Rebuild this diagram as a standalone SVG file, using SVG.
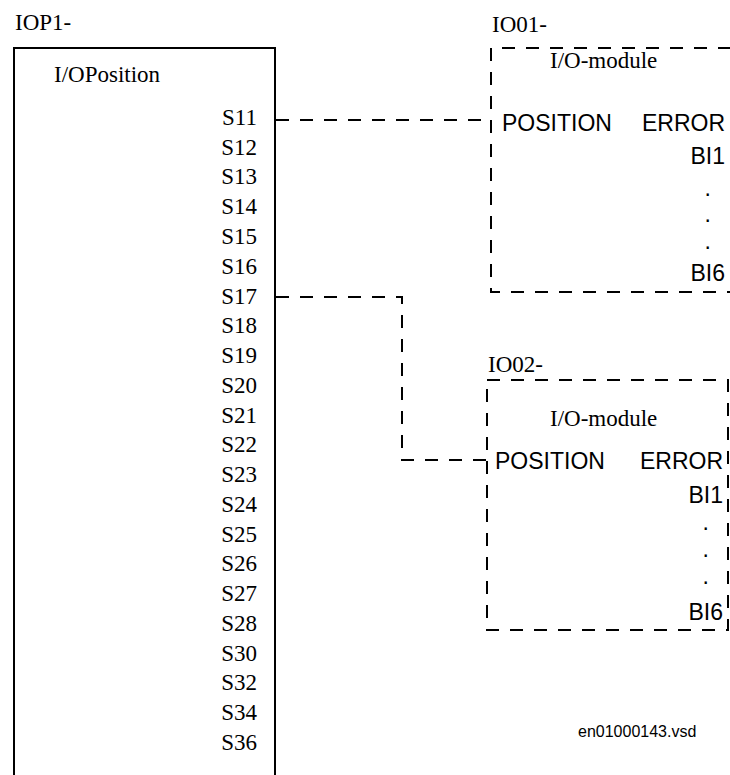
<svg xmlns="http://www.w3.org/2000/svg" width="730" height="775" viewBox="0 0 730 775">
<style>
.serif{font-family:"Liberation Serif","Times New Roman",serif;font-size:23px;fill:#000}
.sans{font-family:"Liberation Sans",Arial,sans-serif;font-size:23px;fill:#000}
.foot{font-family:"Liberation Sans",Arial,sans-serif;font-size:16px;fill:#000}
.solid{fill:none;stroke:#000;stroke-width:2}
.dash{fill:none;stroke:#000;stroke-width:2;stroke-dasharray:13 11}
.end{text-anchor:end}
</style>
<rect width="730" height="775" fill="#fff"/>
<g id="IOP1">
<text class="serif" x="15" y="30">IOP1-</text>
<path class="solid" d="M14,790 V48 H275 V790"/>
<text class="serif" x="54" y="82">I/OPosition</text>
<g class="serif end">
<text x="257" y="125">S11</text>
<text x="257" y="155">S12</text>
<text x="257" y="184">S13</text>
<text x="257" y="214">S14</text>
<text x="257" y="244">S15</text>
<text x="257" y="274">S16</text>
<text x="257" y="304">S17</text>
<text x="257" y="333">S18</text>
<text x="257" y="363">S19</text>
<text x="257" y="393">S20</text>
<text x="257" y="423">S21</text>
<text x="257" y="452">S22</text>
<text x="257" y="482">S23</text>
<text x="257" y="512">S24</text>
<text x="257" y="542">S25</text>
<text x="257" y="571">S26</text>
<text x="257" y="601">S27</text>
<text x="257" y="631">S28</text>
<text x="257" y="661">S30</text>
<text x="257" y="690">S32</text>
<text x="257" y="720">S34</text>
<text x="257" y="750">S36</text>
</g>
</g>
<g id="IO01">
<text class="serif" x="492" y="32">IO01-</text>
<path class="dash" d="M731,48 H491 V292 H731"/>
<text class="serif" x="550" y="68">I/O-module</text>
<text class="sans" x="502" y="131">POSITION</text>
<text class="sans end" x="725" y="131">ERROR</text>
<text class="sans end" x="725" y="164">BI1</text>
<text class="sans end" x="711" y="196">.</text>
<text class="sans end" x="711" y="222">.</text>
<text class="sans end" x="711" y="249">.</text>
<text class="sans end" x="725" y="281">BI6</text>
</g>
<g id="IO02">
<text class="serif" x="488" y="372">IO02-</text>
<rect class="dash" x="487" y="380" width="241" height="250"/>
<text class="serif" x="550" y="426">I/O-module</text>
<text class="sans" x="495" y="469">POSITION</text>
<text class="sans end" x="723" y="469">ERROR</text>
<text class="sans end" x="723" y="503">BI1</text>
<text class="sans end" x="709" y="530">.</text>
<text class="sans end" x="709" y="557">.</text>
<text class="sans end" x="709" y="584">.</text>
<text class="sans end" x="723" y="620">BI6</text>
</g>
<g id="connectors">
<path class="dash" d="M276,120 H491"/>
<path class="dash" d="M276,297 H402 V460 H487"/>
</g>
<text class="foot" x="578" y="737">en01000143.vsd</text>
</svg>
